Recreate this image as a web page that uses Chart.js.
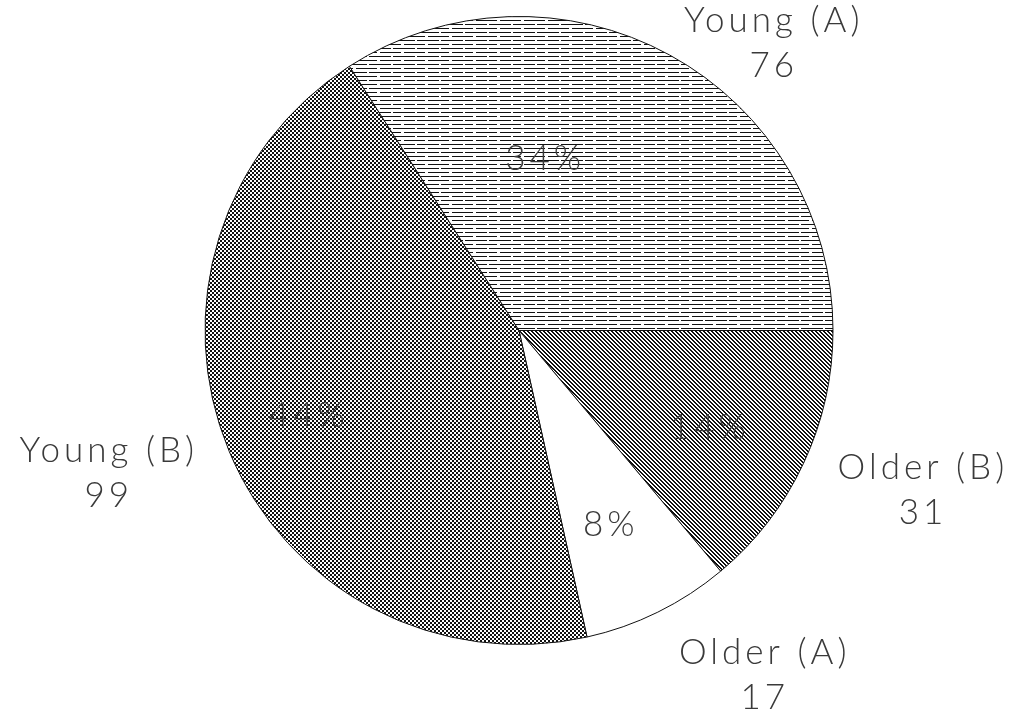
<!DOCTYPE html>
<html lang="en">
<head>
  <meta charset="UTF-8">
  <title>Young / Older (A, B)</title>
  <script src="https://cdn.jsdelivr.net/npm/chart.js"></script>
  <style>
    body {
      margin: 0;
      padding: 0;
      background-color: #fff;
    }
    canvas {
      display: block;
    }
  </style>
</head>
<body>
  <canvas id="pieChart" width="1016" height="711"></canvas>

  <script>
    // slices go clockwise from 3 o'clock
    const categories = ['Older (B)', 'Older (A)', 'Young (B)', 'Young (A)'];
    const counts = [31, 17, 99, 76];
    const percentLabels = ['14%', '8%', '44%', '34%'];

    // little bitmap fills, like the old print hatching
    function makePattern(w, h, paint) {
      const c = document.createElement('canvas');
      c.width = w;
      c.height = h;
      const g = c.getContext('2d');
      g.fillStyle = '#fff';
      g.fillRect(0, 0, w, h);
      g.fillStyle = '#111';
      for (let y = 0; y < h; y++) {
        for (let x = 0; x < w; x++) {
          if (paint(x, y)) g.fillRect(x, y, 1, 1);
        }
      }
      return g.createPattern(c, 'repeat');
    }

    const diagonal = makePattern(4, 4, (x, y) => ((x - y + 8) % 4) < 2);
    const white = '#ffffff';
    const checker = makePattern(4, 4, (x, y) => (((x >> 1) + (y >> 1)) % 2) === 0);
    // broken horizontal rules, roughly every 4px
    const lines = makePattern(24, 8, (x, y) =>
      (y === 0 && x % 24 !== 7 && x % 24 !== 8) ||
      (y === 4 && x % 24 !== 17 && x % 24 !== 18 && x % 24 !== 19));

    // label placement: angle nudge (deg) and radius factor for each slice
    const labelPlacer = {
      id: 'labelPlacer',
      afterDatasetsDraw(chart, args, opts) {
        const ctx = chart.ctx;
        const meta = chart.getDatasetMeta(0);
        ctx.save();
        ctx.font = '300 35px Lato, "Open Sans", Roboto, sans-serif';
        ctx.letterSpacing = '4px';
        ctx.fillStyle = '#3a3a3a';
        ctx.textAlign = 'center';
        ctx.textBaseline = 'alphabetic';
        meta.data.forEach((arc, i) => {
          const p = arc.getProps(['x', 'y', 'startAngle', 'endAngle', 'outerRadius'], true);
          const mid = (p.startAngle + p.endAngle) / 2;

          const o = opts.outer[i];
          const a1 = mid + o[0] * Math.PI / 180;
          const ox = p.x + Math.cos(a1) * p.outerRadius * o[1];
          const oy = p.y + Math.sin(a1) * p.outerRadius * o[1];
          ctx.fillText(categories[i], ox, oy - 8);
          ctx.fillText(String(counts[i]), ox, oy + 37);

          const n = opts.inner[i];
          const a2 = mid + n[0] * Math.PI / 180;
          const ix = p.x + Math.cos(a2) * p.outerRadius * n[1];
          const iy = p.y + Math.sin(a2) * p.outerRadius * n[1];
          ctx.fillText(percentLabels[i], ix, iy + 13);
        });
        ctx.restore();
      }
    };

    const ctx = document.getElementById('pieChart').getContext('2d');
    const pieChart = new Chart(ctx, {
      type: 'pie',
      data: {
        labels: categories,
        datasets: [{
          data: counts,
          backgroundColor: [diagonal, white, checker, lines],
          borderColor: '#111',
          borderWidth: 1
        }]
      },
      plugins: [labelPlacer],
      options: {
        responsive: false,
        animation: false,
        rotation: 90,
        layout: {
          padding: { top: 16, bottom: 66, left: 22, right: 0 }
        },
        plugins: {
          legend: { display: false },
          tooltip: { enabled: false },
          labelPlacer: {
            outer: [[-3.8, 1.38], [-9.5, 1.34], [3.8, 1.38], [12.6, 1.23]],
            inner: [[1.6, 0.68], [0.8, 0.68], [1.0, 0.72], [-20.1, 0.56]]
          }
        }
      }
    });
  </script>
</body>
</html>
